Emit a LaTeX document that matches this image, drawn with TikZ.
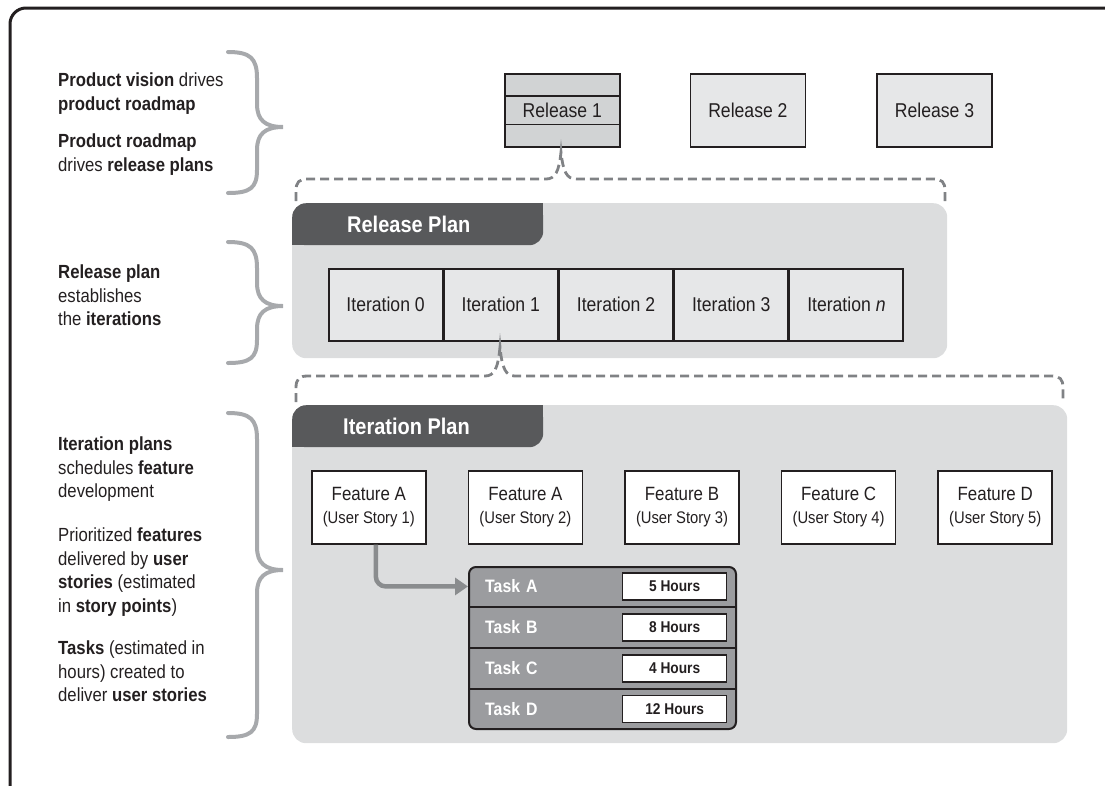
\documentclass[tikz,border=0pt]{standalone}
\usepackage{fontspec}
\setmainfont{Liberation Sans}[FakeStretch=0.88]
\usetikzlibrary{arrows.meta,positioning}

\definecolor{ink}{HTML}{231F20}
\definecolor{panelgray}{HTML}{DCDDDE}
\definecolor{tabgray}{HTML}{58595B}
\definecolor{relone}{HTML}{D1D3D4}
\definecolor{relother}{HTML}{E6E7E8}
\definecolor{bracegray}{HTML}{A7A9AC}
\definecolor{dashgray}{HTML}{808285}
\definecolor{taskgray}{HTML}{9B9C9F}
\definecolor{arrowgray}{HTML}{8A8C8E}

\newcommand\fsz[2]{\fontsize{#1}{#2}\selectfont}

\begin{document}
\begin{tikzpicture}[x=1pt,y=-1pt,
  every node/.style={text=ink},
  note/.style={anchor=north west, align=left, inner sep=0pt, font=\fsz{19}{23.5}},
  brace/.style={draw=bracegray, line width=4pt, line cap=round},
  dashbrace/.style={draw=dashgray, line width=2.8pt, dash pattern=on 9pt off 5pt},
  box/.style={draw=ink, line width=1.6pt, anchor=north west, inner sep=0pt},
  relbox/.style={box, minimum width=115pt, minimum height=73pt, font=\fsz{20}{22}},
  iterbox/.style={box, fill=relother, minimum width=113.6pt, minimum height=72pt, font=\fsz{20}{22}},
  featbox/.style={box, fill=white, minimum width=114pt, minimum height=73pt, align=center, font=\fsz{19.2}{23}},
  panel/.style={fill=panelgray, anchor=north west, rounded corners=14pt, inner sep=0pt},
  tabbox/.style={fill=tabgray, anchor=north west, rounded corners=14pt, inner sep=0pt,
    minimum width=251pt, minimum height=42pt},
  tablabel/.style={anchor=west, inner sep=0pt, text=white, font=\bfseries\fsz{22.7}{24}},
  taskrow/.style={anchor=north west, minimum width=267pt, minimum height=40.5pt, text width=233pt,
    inner xsep=17pt, inner ysep=0pt, align=left, text=white, font=\bfseries\fsz{18}{20}},
  hourbox/.style={draw=ink, line width=1.5pt, fill=white, anchor=east, minimum width=104pt,
    minimum height=27pt, inner sep=0pt, font=\bfseries\fsz{15.6}{17}},
  flowarrow/.style={draw=arrowgray, line width=4.5pt, rounded corners=10pt,
    -{Triangle[length=13pt,width=17pt]}}
]
\useasboundingbox (0,0) rectangle (1105,785);

% frame
\draw[line width=3pt, draw=ink, rounded corners=16pt] (10,790) -- (10,8) -- (1110,8);

% notes on the left
\node[note] (n1) at (58,73) {\textbf{Product vision} drives\\\textbf{product roadmap}};
\node[note] (n2) at (58,134) {\textbf{Product roadmap}\\drives \textbf{release plans}};
\node[note] (n3) at (58,265) {\textbf{Release plan}\\establishes\\the \textbf{iterations}};
\node[note] (n4) at (58,437) {\textbf{Iteration plans}\\schedules \textbf{feature}\\development};
\node[note] (n5) at (58,528) {Prioritized \textbf{features}\\delivered by \textbf{user}\\\textbf{stories} (estimated\\in \textbf{story points})};
\node[note] (n6) at (58,641) {\textbf{Tasks} (estimated in\\hours) created to\\deliver \textbf{user stories}};

\draw[brace] (228,52) .. controls (250,52) and (257,58) .. (257,78) -- (257,104)
  .. controls (257,120) and (265,127) .. (283,127)
  .. controls (265,127) and (257,134) .. (257,150) -- (257,170)
  .. controls (257,188) and (250,193) .. (228,193);
\draw[brace] (228,242) .. controls (250,242) and (257,248) .. (257,268) -- (257,283)
  .. controls (257,299) and (265,306) .. (283,306)
  .. controls (265,306) and (257,313) .. (257,329) -- (257,340)
  .. controls (257,358) and (250,363) .. (228,363);
\draw[brace] (228,413) .. controls (250,413) and (257,419) .. (257,439) -- (257,547)
  .. controls (257,563) and (265,570) .. (283,570)
  .. controls (265,570) and (257,577) .. (257,593) -- (257,714)
  .. controls (257,732) and (250,737) .. (228,737);

% releases
\node[relbox, fill=relone] (r1) at (504,73) {Release 1};
\node[relbox, fill=relother, right=69pt of r1] (r2) {Release 2};
\node[relbox, fill=relother, right=70pt of r2] (r3) {Release 3};
\draw[line width=1.6pt, draw=ink] ([yshift=-23pt]r1.north west) -- ([yshift=-23pt]r1.north east);
\draw[line width=1.6pt, draw=ink] ([yshift=23pt]r1.south west) -- ([yshift=23pt]r1.south east);

\draw[dashbrace] (296,201) -- (296,191) .. controls (296,182) and (299,179) .. (308,179) -- (546,179)
  .. controls (555,179) and (559,172) .. (561,152)
  .. controls (563,172) and (567,179) .. (576,179) -- (933,179)
  .. controls (942,179) and (945,182) .. (945,191) -- (945,201);

% release plan
\node[panel, minimum width=655pt, minimum height=155pt] (rp) at (292,203) {};
\node[tabbox] (rptab) at (292,203) {};
\fill[tabgray] (rptab.north east) rectangle +(-14,14);
\fill[tabgray] (rptab.south west) rectangle +(14,-14);
\node[tablabel] (rplabel) at ([xshift=55pt]rptab.west) {Release Plan};

\node[iterbox] (it0) at (328,268) {Iteration 0};
\node[iterbox, right=0pt of it0] (it1) {Iteration 1};
\node[iterbox, right=0pt of it1] (it2) {Iteration 2};
\node[iterbox, right=0pt of it2] (it3) {Iteration 3};
\node[iterbox, right=0pt of it3] (itn) {Iteration \textit{n}};

\draw[dashbrace] (296,402) -- (296,388) .. controls (296,379) and (299,376) .. (308,376) -- (485,376)
  .. controls (494,376) and (498,369) .. (500,347)
  .. controls (502,369) and (506,376) .. (515,376) -- (1051,376)
  .. controls (1060,376) and (1063,379) .. (1063,388) -- (1063,402);

% iteration plan
\node[panel, minimum width=775pt, minimum height=338pt] (ip) at (292,405) {};
\node[tabbox] (iptab) at (292,405) {};
\fill[tabgray] (iptab.north east) rectangle +(-14,14);
\fill[tabgray] (iptab.south west) rectangle +(14,-14);
\node[tablabel] (iplabel) at ([xshift=51pt]iptab.west) {Iteration Plan};

\node[featbox] (fa1) at (311,470) {Feature A\\{\fsz{16.8}{23}(User Story 1)}};
\node[featbox, right=41pt of fa1] (fa2) {Feature A\\{\fsz{16.8}{23}(User Story 2)}};
\node[featbox, right=41pt of fa2] (fb) {Feature B\\{\fsz{16.8}{23}(User Story 3)}};
\node[featbox, right=41pt of fb] (fc) {Feature C\\{\fsz{16.8}{23}(User Story 4)}};
\node[featbox, right=41pt of fc] (fd) {Feature D\\{\fsz{16.8}{23}(User Story 5)}};

% tasks
\node[draw=ink, line width=2pt, fill=taskgray, rounded corners=7pt, anchor=north west,
  minimum width=267pt, minimum height=162pt, inner sep=0pt] (tasks) at (468,566) {};
\node[taskrow] (ta) at (468,566) {Task A};
\node[taskrow, below=0pt of ta] (tb) {Task B};
\node[taskrow, below=0pt of tb] (tc) {Task C};
\node[taskrow, below=0pt of tc] (td) {Task D};
\draw[line width=2pt, draw=ink] (ta.south west) -- (ta.south east);
\draw[line width=2pt, draw=ink] (tb.south west) -- (tb.south east);
\draw[line width=2pt, draw=ink] (tc.south west) -- (tc.south east);
\node[hourbox] (ha) at ([xshift=-8pt]ta.east) {5 Hours};
\node[hourbox] (hb) at ([xshift=-8pt]tb.east) {8 Hours};
\node[hourbox] (hc) at ([xshift=-8pt]tc.east) {4 Hours};
\node[hourbox] (hd) at ([xshift=-8pt]td.east) {12 Hours};

\draw[flowarrow] ([xshift=7pt]fa1.south) |- (ta.west);
\end{tikzpicture}
\end{document}
